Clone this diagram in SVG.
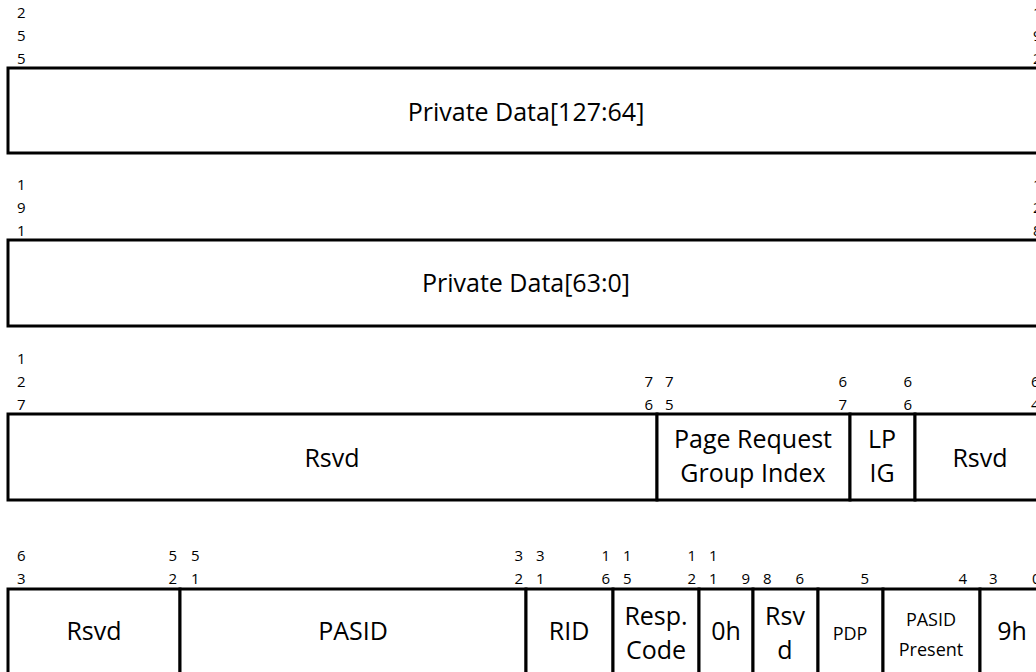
<svg xmlns="http://www.w3.org/2000/svg" width="1036" height="672" viewBox="0 0 1036 672">
<style>
.f{fill:#fff;stroke:#000;stroke-width:3}
.t{font-family:"Open Sans","Liberation Sans",sans-serif;font-size:25px;fill:#000;text-anchor:middle}
.s{font-family:"Open Sans","Liberation Sans",sans-serif;font-size:18px;fill:#000;text-anchor:middle}
.d{font-family:"Open Sans","Liberation Sans",sans-serif;font-size:15px;fill:#000}
.r{text-anchor:end}
</style>
<rect width="1036" height="672" fill="#fff"/>
<g id="row1">
<rect class="f" x="8" y="68" width="1036" height="85"/>
<text class="t" x="526" y="121">Private Data[127:64]</text>
<text class="d" x="17" y="18">2</text><text class="d" x="17" y="41">5</text><text class="d" x="17" y="64">5</text>
<text class="d" x="1033" y="18">1</text><text class="d" x="1033" y="41">9</text><text class="d" x="1033" y="64">2</text>
</g>
<g id="row2">
<rect class="f" x="8" y="240" width="1036" height="86"/>
<text class="t" x="526" y="292">Private Data[63:0]</text>
<text class="d" x="17" y="190">1</text><text class="d" x="17" y="213">9</text><text class="d" x="17" y="236">1</text>
<text class="d" x="1033" y="190">1</text><text class="d" x="1033" y="213">2</text><text class="d" x="1033" y="236">8</text>
</g>
<g id="row3">
<g id="r3-rsvd"><rect class="f" x="8" y="414" width="649" height="86"/><text class="t" x="332" y="467">Rsvd</text></g>
<g id="r3-prgi"><rect class="f" x="657" y="414" width="193" height="86"/><text class="t" x="753" y="448">Page Request</text><text class="t" x="753" y="482">Group Index</text></g>
<g id="r3-lpig"><rect class="f" x="850" y="414" width="65" height="86"/><text class="t" x="882" y="448">LP</text><text class="t" x="882" y="482">IG</text></g>
<g id="r3-rsvd2"><rect class="f" x="915" y="414" width="129" height="86"/><text class="t" x="980" y="467">Rsvd</text></g>
<text class="d" x="17" y="364">1</text><text class="d" x="17" y="387">2</text><text class="d" x="17" y="410">7</text>
<text class="d r" x="653" y="387">7</text><text class="d r" x="653" y="410">6</text>
<text class="d" x="665" y="387">7</text><text class="d" x="665" y="410">5</text>
<text class="d r" x="847" y="387">6</text><text class="d r" x="847" y="410">7</text>
<text class="d r" x="912" y="387">6</text><text class="d r" x="912" y="410">6</text>
<text class="d" x="1031" y="387">6</text><text class="d" x="1031" y="410">4</text>
</g>
<g id="row4">
<g id="r4-rsvd"><rect class="f" x="8" y="589" width="172" height="86"/><text class="t" x="94" y="640">Rsvd</text></g>
<g id="r4-pasid"><rect class="f" x="180" y="589" width="346" height="86"/><text class="t" x="353" y="640">PASID</text></g>
<g id="r4-rid"><rect class="f" x="526" y="589" width="87" height="86"/><text class="t" x="569" y="640">RID</text></g>
<g id="r4-resp"><rect class="f" x="613" y="589" width="86" height="86"/><text class="t" x="656" y="625">Resp.</text><text class="t" x="656" y="659">Code</text></g>
<g id="r4-0h"><rect class="f" x="699" y="589" width="54" height="86"/><text class="t" x="726" y="640">0h</text></g>
<g id="r4-rsvd2"><rect class="f" x="753" y="589" width="65" height="86"/><text class="t" x="785" y="625">Rsv</text><text class="t" x="785" y="659">d</text></g>
<g id="r4-pdp"><rect class="f" x="818" y="589" width="65" height="86"/><text class="s" x="850" y="640">PDP</text></g>
<g id="r4-pp"><rect class="f" x="883" y="589" width="97" height="86"/><text class="s" x="931" y="626">PASID</text><text class="s" x="931" y="656">Present</text></g>
<g id="r4-9h"><rect class="f" x="980" y="589" width="64" height="86"/><text class="t" x="1012" y="640">9h</text></g>
<text class="d" x="17" y="561">6</text><text class="d" x="17" y="584">3</text>
<text class="d r" x="177" y="561">5</text><text class="d r" x="177" y="584">2</text>
<text class="d" x="191" y="561">5</text><text class="d" x="191" y="584">1</text>
<text class="d r" x="523" y="561">3</text><text class="d r" x="523" y="584">2</text>
<text class="d" x="536" y="561">3</text><text class="d" x="536" y="584">1</text>
<text class="d r" x="610" y="561">1</text><text class="d r" x="610" y="584">6</text>
<text class="d" x="623" y="561">1</text><text class="d" x="623" y="584">5</text>
<text class="d r" x="696" y="561">1</text><text class="d r" x="696" y="584">2</text>
<text class="d" x="709" y="561">1</text><text class="d" x="709" y="584">1</text>
<text class="d r" x="750" y="584">9</text>
<text class="d" x="763" y="584">8</text>
<text class="d r" x="804" y="584">6</text>
<text class="d r" x="869" y="584">5</text>
<text class="d r" x="967" y="584">4</text>
<text class="d" x="989" y="584">3</text>
<text class="d" x="1032" y="584">0</text>
</g>
</svg>
